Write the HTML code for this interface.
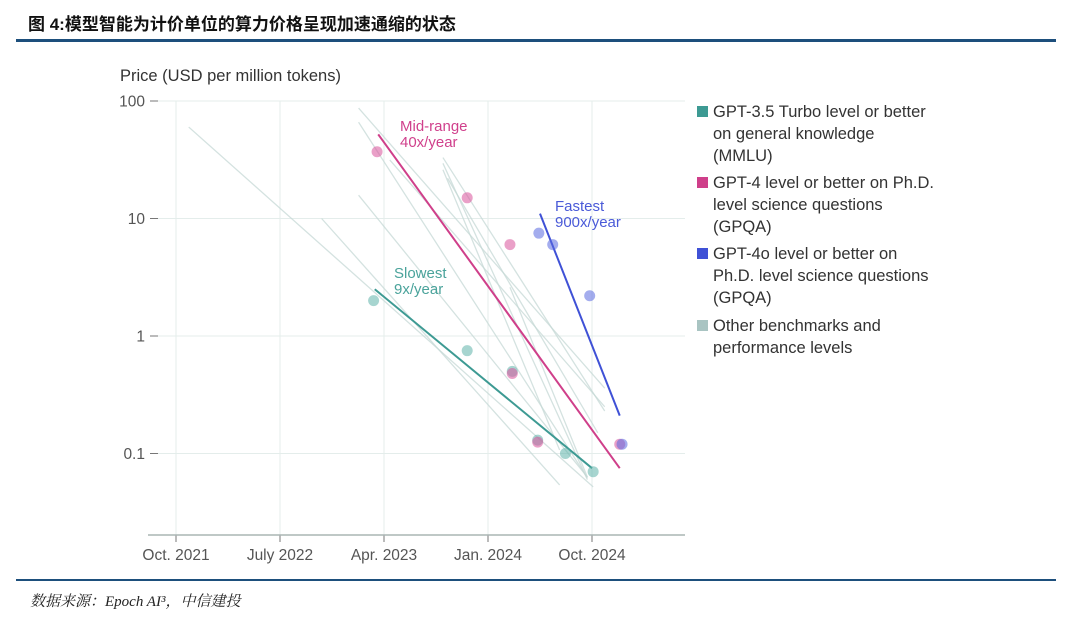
<!DOCTYPE html>
<html><head><meta charset="utf-8"><style>
body{margin:0;background:#fff;width:1080px;height:622px;overflow:hidden;font-family:"Liberation Sans","Noto Sans CJK SC",sans-serif}
.title{position:absolute;left:28px;top:10px;font-size:17px;font-weight:bold;color:#111}
.rule{position:absolute;left:16px;width:1040px;background:#1d4f7c}
.foot{position:absolute;left:30px;top:590px;font-size:15px;font-style:italic;color:#222;font-family:"Liberation Serif","Noto Serif CJK SC",serif}
.leg{position:absolute;left:697px;font-size:16.5px;color:#333;line-height:22px}
.leg span.sw{position:absolute;left:0;top:5px;width:11px;height:11px}
.leg div.t{margin-left:16px}
</style></head><body>
<div class="title">图 4:模型智能为计价单位的算力价格呈现加速通缩的状态</div>
<div class="rule" style="top:39px;height:3px"></div>
<div class="rule" style="top:579px;height:2px"></div>
<div class="foot">数据来源：Epoch AI³，中信建投</div>
<svg id="chart" width="1080" height="622" style="position:absolute;left:0;top:0"></svg>
<div class="leg" style="top:101px"><span class="sw" style="background:#3d9a93"></span><div class="t">GPT-3.5 Turbo level or better<br>on general knowledge<br>(MMLU)</div></div>
<div class="leg" style="top:172px"><span class="sw" style="background:#cf3f8a"></span><div class="t">GPT-4 level or better on Ph.D.<br>level science questions<br>(GPQA)</div></div>
<div class="leg" style="top:243px"><span class="sw" style="background:#3f51d6"></span><div class="t">GPT-4o level or better on<br>Ph.D. level science questions<br>(GPQA)</div></div>
<div class="leg" style="top:315px"><span class="sw" style="background:#a9c4c2"></span><div class="t">Other benchmarks and<br>performance levels</div></div>
<script>
// months since Oct 2021
const xTickLabels=["Oct. 2021","July 2022","Apr. 2023","Jan. 2024","Oct. 2024"];
const xTickMonths=[0,9,18,27,36];
const yTicks=[100,10,1,0.1];
const yTickLabels=["100","10","1","0.1"];
const tealMonths=[17.1,25.2,29.1,31.3,33.7,36.1];
const tealPrices=[2.0,0.75,0.5,0.13,0.1,0.07];
const pinkMonths=[17.4,25.2,28.9,29.1,31.3,38.4];
const pinkPrices=[37,15,6,0.48,0.125,0.12];
const blueMonths=[31.4,32.6,35.8,38.6];
const bluePrices=[7.5,6,2.2,0.12];
const tealFit=[[17.2,2.5],[36,0.075]];
const pinkFit=[[17.5,52],[38.4,0.075]];
const blueFit=[[31.5,11],[38.4,0.21]];
const grayStartMonths=[1.1,15.8,15.8,15.8,12.6,23.1,23.1,23.1,28.9,18.5,23.5];
const grayStartPrices=[60,87,66,15.8,10,33,29.5,26,2.6,31.5,22];
const grayEndMonths=[36.1,37.1,35.6,35.6,33.2,37.1,35.6,33.2,35.6,37.1,36.5];
const grayEndPrices=[0.052,0.36,0.062,0.063,0.054,0.23,0.06,0.107,0.063,0.25,0.15];

const X=m=>176+m*104/9;
const Y=p=>336-Math.log10(p)*117.5;
const svg=document.getElementById('chart');
const NS='http://www.w3.org/2000/svg';
function mk(tag,attrs){const e=document.createElementNS(NS,tag);for(const k in attrs)e.setAttribute(k,attrs[k]);svg.appendChild(e);return e;}
let e;
e=mk('text',{x:120,y:81,'font-size':16.5,fill:'#333','font-family':'Liberation Sans,sans-serif'});e.textContent='Price (USD per million tokens)';


yTicks.forEach((v,i)=>{
 const y=Y(v);
 e=mk('line',{x1:155,x2:685,y1:y,y2:y,stroke:'#e4edeb','stroke-width':1});
 
 
 e=mk('line',{x1:150,x2:158,y1:y,y2:y,stroke:'#777','stroke-width':1});
 
 
 e=mk('text',{x:145,y:y+5.5,'font-size':15.5,fill:'#555','text-anchor':'end'});e.textContent=yTickLabels[i];
 
 
});
xTickMonths.forEach((m,i)=>{
 const x=X(m);
 e=mk('line',{x1:x,x2:x,y1:101,y2:535,stroke:'#e4edeb','stroke-width':1});
 
 
 e=mk('line',{x1:x,x2:x,y1:535,y2:542,stroke:'#777','stroke-width':1});
 
 
 e=mk('text',{x:x,y:560,'font-size':15.5,fill:'#555','text-anchor':'middle'});e.textContent=xTickLabels[i];
 
 
});
e=mk('line',{x1:148,x2:685,y1:535,y2:535,stroke:'#aab5b4','stroke-width':1.5});


grayStartMonths.forEach((m,i)=>{
 e=mk('line',{x1:X(m),y1:Y(grayStartPrices[i]),x2:X(grayEndMonths[i]),y2:Y(grayEndPrices[i]),stroke:'#c6d9d6','stroke-width':1.3,opacity:0.75});
 
 
});
function fit(f,c,name){e=mk('line',{x1:X(f[0][0]),y1:Y(f[0][1]),x2:X(f[1][0]),y2:Y(f[1][1]),stroke:c,'stroke-width':2});
 
 }
function pts(ms,ps,c,name){ms.forEach((m,i)=>{e=mk('circle',{cx:X(m),cy:Y(ps[i]),r:5.5,fill:c,opacity:0.55});
 
 });}
fit(tealFit,'#3d9a93','slowest-trend-line');
fit(pinkFit,'#cf3f8a','midrange-trend-line');
fit(blueFit,'#3f51d6','fastest-trend-line');
pts(tealMonths,tealPrices,'#5fb3aa','gpt35-point');
pts(pinkMonths,pinkPrices,'#d9529a','gpt4-point');
pts(blueMonths,bluePrices,'#5a6ae0','gpt4o-point');
function lab(x,y,t1,t2,c,name){e=mk('text',{x:x,y:y,'font-size':15,fill:c});
 e.innerHTML='<tspan x="'+x+'">'+t1+'</tspan><tspan x="'+x+'" dy="16">'+t2+'</tspan>';
 
 }
lab(400,131,'Mid-range','40x/year','#d0408c','midrange-annotation');
lab(555,211,'Fastest','900x/year','#4a5ad8','fastest-annotation');
lab(394,278,'Slowest','9x/year','#4aa39b','slowest-annotation');
</script>
</body></html>
